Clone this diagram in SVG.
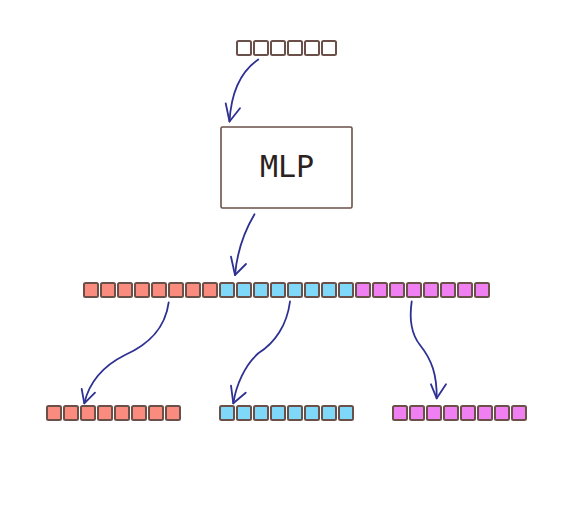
<svg xmlns="http://www.w3.org/2000/svg" width="573" height="517" viewBox="0 0 573 517">
<style>
.c{stroke:#6b5049;stroke-width:2;}
.w{fill:#ffffff;}
.r{fill:#fa8c7f;}
.b{fill:#7fd8f8;}
.p{fill:#f080f2;}
.a{fill:none;stroke:#2e3192;stroke-width:1.8;stroke-linecap:round;stroke-linejoin:round;}
.t{font-family:"DejaVu Sans Mono","Liberation Mono",monospace;font-size:30px;fill:#2b2220;}
</style>
<defs>
<rect id="sq" width="14" height="14" rx="1.5"/>
</defs>
<rect width="573" height="517" fill="#ffffff"/>
<g id="input">
<g class="c w">
<use href="#sq" x="237" y="41"/><use href="#sq" x="254" y="41"/><use href="#sq" x="271" y="41"/><use href="#sq" x="288" y="41"/><use href="#sq" x="305" y="41"/><use href="#sq" x="322" y="41"/>
</g>
</g>
<g id="mlp">
<rect x="221" y="127" width="131" height="81" rx="1.5" fill="#ffffff" stroke="#6b5049" stroke-width="1.6"/>
<text class="t" x="287" y="177" text-anchor="middle">MLP</text>
</g>
<g id="output">
<g class="c r">
<use href="#sq" x="84" y="283"/><use href="#sq" x="101" y="283"/><use href="#sq" x="118" y="283"/><use href="#sq" x="135" y="283"/><use href="#sq" x="152" y="283"/><use href="#sq" x="169" y="283"/><use href="#sq" x="186" y="283"/><use href="#sq" x="203" y="283"/>
</g>
<g class="c b">
<use href="#sq" x="220" y="283"/><use href="#sq" x="237" y="283"/><use href="#sq" x="254" y="283"/><use href="#sq" x="271" y="283"/><use href="#sq" x="288" y="283"/><use href="#sq" x="305" y="283"/><use href="#sq" x="322" y="283"/><use href="#sq" x="339" y="283"/>
</g>
<g class="c p">
<use href="#sq" x="356" y="283"/><use href="#sq" x="373" y="283"/><use href="#sq" x="390" y="283"/><use href="#sq" x="407" y="283"/><use href="#sq" x="424" y="283"/><use href="#sq" x="441" y="283"/><use href="#sq" x="458" y="283"/><use href="#sq" x="475" y="283"/>
</g>
</g>
<g id="split-red">
<g class="c r">
<use href="#sq" x="47" y="406"/><use href="#sq" x="64" y="406"/><use href="#sq" x="81" y="406"/><use href="#sq" x="98" y="406"/><use href="#sq" x="115" y="406"/><use href="#sq" x="132" y="406"/><use href="#sq" x="149" y="406"/><use href="#sq" x="166" y="406"/>
</g>
</g>
<g id="split-blue">
<g class="c b">
<use href="#sq" x="220" y="406"/><use href="#sq" x="237" y="406"/><use href="#sq" x="254" y="406"/><use href="#sq" x="271" y="406"/><use href="#sq" x="288" y="406"/><use href="#sq" x="305" y="406"/><use href="#sq" x="322" y="406"/><use href="#sq" x="339" y="406"/>
</g>
</g>
<g id="split-pink">
<g class="c p">
<use href="#sq" x="393" y="406"/><use href="#sq" x="410" y="406"/><use href="#sq" x="427" y="406"/><use href="#sq" x="444" y="406"/><use href="#sq" x="461" y="406"/><use href="#sq" x="478" y="406"/><use href="#sq" x="495" y="406"/><use href="#sq" x="512" y="406"/>
</g>
</g>
<g id="connectors" class="a">
<path d="M258.3,59.5 C240,72 231,95 229.5,121.5"/>
<path d="M225.7,103.3 L229.5,121.5 L240,108.3"/>
<path d="M254.5,214.3 C244,232 237,252 235,275"/>
<path d="M231,256.7 L235,275 L246,264"/>
<path d="M168.7,302.3 C165,330 147,345 125,355 C103,366 89,383 84.3,403.3"/>
<path d="M81.7,389 L84.3,403.3 L95,392.7"/>
<path d="M290,301.5 C287,325 275,343 258.3,353.3 C245,365 236,385 233.3,403.3"/>
<path d="M231,385.7 L233.3,403.3 L245.7,392.7"/>
<path d="M411.7,301.5 C409,320 412,335 420,345 C432,360 437,375 436.7,398.3"/>
<path d="M431,384.3 L436.7,398.3 L446,384.3"/>
</g>
</svg>
